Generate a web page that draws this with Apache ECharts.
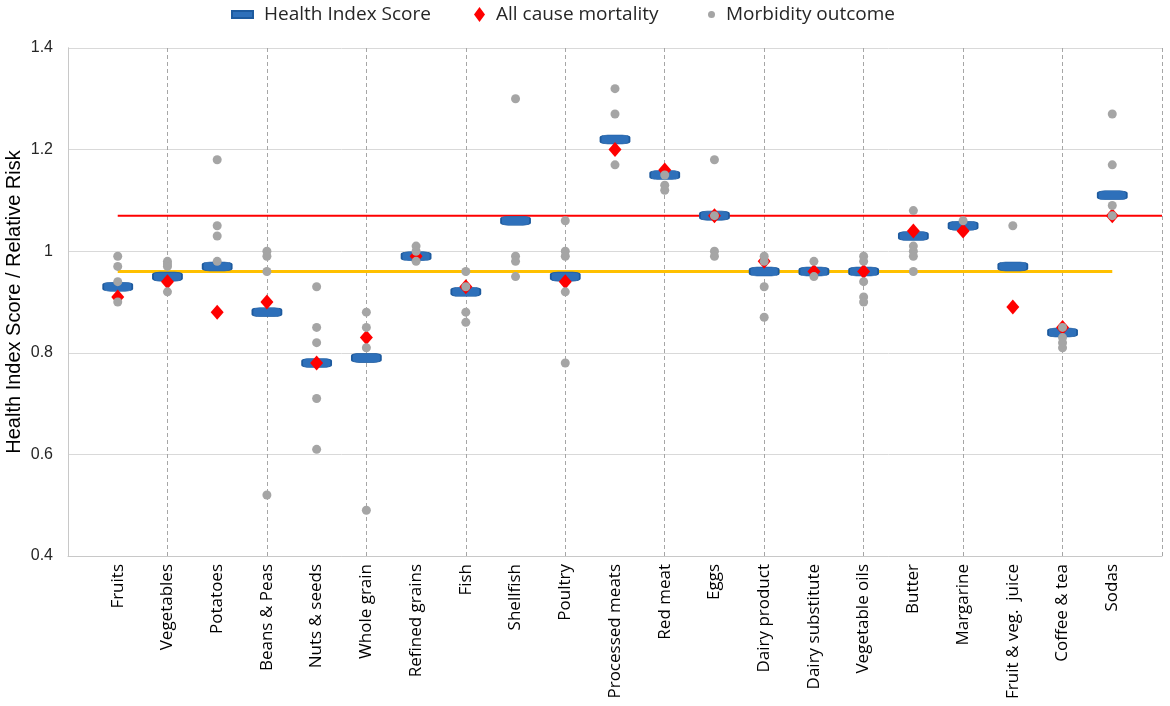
<!DOCTYPE html>
<html>
<head>
<meta charset="utf-8">
<script src="https://cdn.jsdelivr.net/npm/echarts@6/dist/echarts.min.js"></script>
<style>
    html, body { margin: 0; padding: 0; background: #fff; }
    #chart { width: 1170px; height: 706px; }
</style>
</head>
<body>
<div id="chart"></div>
<script>
// food groups, one per x position 1..21
var categories = ['Fruits', 'Vegetables', 'Potatoes', 'Beans & Peas', 'Nuts & seeds', 'Whole grain',
    'Refined grains', 'Fish', 'Shellfish', 'Poultry', 'Processed meats', 'Red meat', 'Eggs',
    'Dairy product', 'Dairy substitute', 'Vegetable oils', 'Butter', 'Margarine',
    'Fruit & veg.  juice', 'Coffee & tea', 'Sodas'];

var healthIndex = [0.93, 0.95, 0.97, 0.88, 0.78, 0.79, 0.99, 0.92, 1.06, 0.95, 1.22,
    1.15, 1.07, 0.96, 0.96, 0.96, 1.03, 1.05, 0.97, 0.84, 1.11];

// shellfish has no all cause mortality value
var allCause = [0.91, 0.94, 0.88, 0.90, 0.78, 0.83, 0.99, 0.93, null, 0.94, 1.20,
    1.16, 1.07, 0.98, 0.96, 0.96, 1.04, 1.04, 0.89, 0.85, 1.07];

var morbidity = [
    [0.99, 0.97, 0.94, 0.90],
    [0.98, 0.975, 0.97, 0.92],
    [1.18, 1.05, 1.03, 0.98],
    [1.00, 0.99, 0.96, 0.52],
    [0.93, 0.85, 0.82, 0.71, 0.61],
    [0.88, 0.85, 0.81, 0.49],
    [1.01, 1.00, 0.98],
    [0.96, 0.93, 0.88, 0.86],
    [1.30, 0.99, 0.98, 0.95],
    [1.06, 1.00, 0.99, 0.92, 0.78],
    [1.32, 1.27, 1.17],
    [1.15, 1.13, 1.12],
    [1.18, 1.07, 1.00, 0.99],
    [0.99, 0.98, 0.93, 0.87],
    [0.98, 0.95],
    [0.99, 0.98, 0.94, 0.91, 0.90],
    [1.08, 1.01, 1.00, 0.99, 0.96],
    [1.06],
    [1.05],
    [0.85, 0.83, 0.82, 0.81],
    [1.27, 1.17, 1.09, 1.07]
];

// reference lines: [x start, x end, value]
var redLine = [1, 22, 1.07];
var yellowLine = [1, 21, 0.96];

var yTicks = [0.4, 0.6, 0.8, 1, 1.2, 1.4];

var hiData = healthIndex.map(function (v, i) { return [i + 1, v]; });
var acData = [];
allCause.forEach(function (v, i) { if (v != null) acData.push([i + 1, v]); });
var moData = [];
morbidity.forEach(function (list, i) {
    list.forEach(function (v) { moData.push([i + 1, v]); });
});

var chart = echarts.init(document.getElementById('chart'));

var legendText = {fontFamily: 'Open Sans', fontSize: 19, color: '#262626', padding: [0, 0, 0, 6]};

var option = {
    animation: false,
    grid: {left: 68, right: 8, top: 48, bottom: 150, outerBoundsMode: 'none', containLabel: false},
    legend: [
        {
            data: [{name: 'Health Index Score', icon: 'rect'}],
            left: 226, top: 0, itemWidth: 21, itemHeight: 7,
            textStyle: legendText, selectedMode: false
        },
        {
            data: [{name: 'All cause mortality', icon: 'diamond'}],
            left: 469, top: 0, itemWidth: 11, itemHeight: 15,
            textStyle: legendText, selectedMode: false
        },
        {
            data: [{name: 'Morbidity outcome', icon: 'circle'}],
            left: 703, top: 0, itemWidth: 7, itemHeight: 7,
            textStyle: legendText, selectedMode: false
        }
    ],
    xAxis: [
        {
            // gridlines only
            type: 'value', min: 0, max: 22, interval: 2,
            axisLine: {show: true, lineStyle: {color: '#C8C8C8', width: 1}},
            axisTick: {show: false},
            axisLabel: {show: false},
            splitLine: {show: true, lineStyle: {color: '#A6A6A6', type: [4, 3], width: 1}}
        },
        {
            // category names
            type: 'value', min: 0, max: 22, interval: 1, position: 'bottom',
            axisLine: {show: false},
            axisTick: {show: false},
            splitLine: {show: false},
            axisLabel: {
                rotate: 90, margin: 8,
                fontFamily: 'Open Sans', fontSize: 17, color: '#000',
                formatter: function (v) { return categories[v - 1] || ''; }
            }
        }
    ],
    yAxis: [
        {
            type: 'value', min: yTicks[0], max: yTicks[yTicks.length - 1], interval: 0.2,
            name: 'Health Index Score / Relative Risk',
            nameLocation: 'middle', nameGap: 44, nameMoveOverlap: false,
            nameTextStyle: {fontFamily: 'Liberation Sans', fontSize: 20, color: '#000'},
            axisLine: {show: true, lineStyle: {color: '#C8C8C8'}},
            axisTick: {show: false},
            axisLabel: {fontFamily: 'Liberation Sans', fontSize: 16, color: '#262626', margin: 15},
            splitLine: {lineStyle: {color: '#D9D9D9', width: 1}}
        },
        {
            type: 'value', min: yTicks[0], max: yTicks[yTicks.length - 1], interval: 0.2,
            position: 'right',
            axisLine: {show: true, lineStyle: {color: '#C8C8C8'}},
            axisTick: {show: false},
            axisLabel: {show: false},
            splitLine: {show: false}
        }
    ],
    series: [
        {
            type: 'line', name: 'ref-red', silent: true, z: 1,
            data: [[redLine[0], redLine[2]], [redLine[1], redLine[2]]],
            symbol: 'none', lineStyle: {color: '#FF0000', width: 2}
        },
        {
            type: 'line', name: 'ref-yellow', silent: true, z: 1,
            data: [[yellowLine[0], yellowLine[2]], [yellowLine[1], yellowLine[2]]],
            symbol: 'none', lineStyle: {color: '#FFC000', width: 3}
        },
        {
            type: 'scatter', name: 'Health Index Score', z: 2,
            data: hiData,
            symbol: 'roundRect', symbolSize: [29, 9],
            itemStyle: {color: '#2E70BA', borderColor: '#1D5A9E', borderWidth: 1, opacity: 1}
        },
        {
            type: 'scatter', name: 'All cause mortality', z: 3,
            data: acData,
            symbol: 'diamond', symbolSize: [13, 15],
            itemStyle: {color: '#FF0000', opacity: 1}
        },
        {
            type: 'scatter', name: 'Morbidity outcome', z: 4,
            data: moData,
            symbol: 'circle', symbolSize: 9,
            itemStyle: {color: '#A5A5A5', opacity: 1}
        }
    ]
};

chart.setOption(option);
</script>
</body>
</html>
